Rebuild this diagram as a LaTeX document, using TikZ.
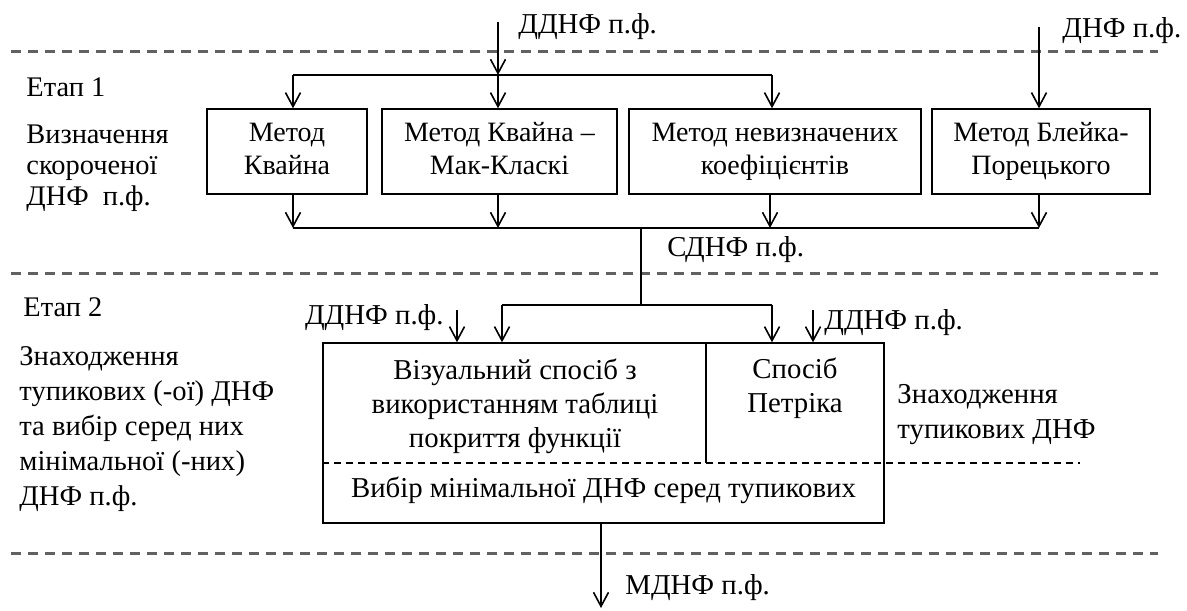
\documentclass[tikz,border=0pt]{standalone}
\usepackage{fontspec}
\setmainfont{Liberation Serif}
\usetikzlibrary{arrows.meta, positioning, calc}
\tikzset{
  method_box/.style={rectangle, draw=black, line width=0.7pt, align=center, font=\fontsize{14}{16.5}\selectfont, minimum height=42.5pt, inner sep=0pt},
  box_text/.style={align=center, font=\fontsize{14.4}{17}\selectfont, inner sep=0pt},
  flow_label/.style={font=\fontsize{14.4}{16}\selectfont, inner sep=0pt},
  stage_text/.style={align=left, inner sep=0pt, anchor=west},
  flow_arrow/.style={-{Straight Barb[length=7pt, width=7.5pt, line width=0.8pt]}, line width=0.9pt},
  flow_line/.style={line width=0.9pt},
  stage_line/.style={dash pattern=on 5pt off 3.5pt, line width=1.5pt, black!62},
  inner_dash/.style={dash pattern=on 3.5pt off 2.5pt, line width=0.7pt}
}

\begin{document}
\begin{tikzpicture}[x=0.5pt, y=-0.5pt]
  \useasboundingbox (0,0) rectangle (1187,610);

  % Stage separators
  \foreach \y in {52, 273, 553}
    \draw[stage_line] (11,\y) -- (1158,\y);

  % Stage captions
  \node[stage_text, font=\fontsize{14.2}{16}\selectfont] (stage_one) at (26,87) {Етап 1};
  \node[stage_text, font=\fontsize{14.2}{15.5}\selectfont] (stage_one_goal) at (26,168) {Визначення\\скороченої\\ДНФ\ \ п.ф.};
  \node[stage_text, font=\fontsize{14.2}{16}\selectfont] (stage_two) at (23,307) {Етап 2};
  \node[stage_text, font=\fontsize{14.3}{17.5}\selectfont] (stage_two_goal) at (19,429) {Знаходження\\тупикових (-ої) ДНФ\\та вибір серед них\\мінімальної (-них)\\ДНФ п.ф.};

  % Stage 1: methods
  \node[method_box, minimum width=80pt] (quine) at (287,151.5) {\strut Метод\\\strut Квайна};
  \node[method_box, minimum width=117.5pt] (mcclusky) at (499.5,151.5) {\strut Метод Квайна –\\\strut Мак-Класкі};
  \node[method_box, minimum width=146pt] (undet) at (775,151.5) {\strut Метод невизначених\\\strut коефіцієнтів};
  \node[method_box, minimum width=109pt] (blake) at (1041,151.5) {\strut Метод Блейка-\\\strut Порецького};

  % Inputs of stage 1
  \coordinate (in_top) at (498,22);
  \coordinate (in_right) at (1039,27);
  \coordinate (split_top) at (498,75);
  \coordinate (split_w) at (293,75);
  \coordinate (split_e) at (772,75);
  \node[flow_label, anchor=west] (in_top_lbl) at (518,27) {ДДНФ п.ф.};
  \node[flow_label, anchor=west] (in_right_lbl) at (1062,31) {ДНФ п.ф.};
  \draw[flow_arrow] (in_top) -- (split_top);
  \draw[flow_line] (split_w) -- (split_e);
  \foreach \c/\b in {split_w/quine, split_top/mcclusky, split_e/undet}
    \draw[flow_arrow] (\c) -- (\c |- \b.north);
  \draw[flow_arrow] (in_right) -- (in_right |- blake.north);

  % Outputs of stage 1
  \foreach \n/\x/\b in {out_q/293/quine, out_m/498/mcclusky, out_u/770/undet, out_b/1039/blake}{
    \coordinate (\n) at (\x,228);
    \draw[flow_arrow] (\n |- \b.south) -- (\n);
  }
  \draw[flow_line] (out_q) -- (out_b);
  \node[flow_label, anchor=west] (sdnf_lbl) at (667,250) {СДНФ п.ф.};

  % Stage 2: dead-end and minimal forms
  \node[rectangle, draw=black, line width=0.7pt, minimum width=280.5pt, minimum height=90pt, inner sep=0pt] (stage2box) at (603.5,433) {};
  \coordinate (split_cell) at (706,463);
  \coordinate (dash_end) at (1080,463);
  \draw[line width=0.7pt] (split_cell) -- (split_cell |- stage2box.north);
  \draw[inner_dash] (stage2box.west |- split_cell) -- (dash_end);
  \node[box_text] (visual) at (515,406) {Візуальний спосіб з\\використанням таблиці\\покриття функції};
  \node[box_text] (petrick) at (795,388) {Спосіб\\Петріка};
  \node[box_text] (choice) at (603.5,490) {Вибір мінімальної ДНФ серед тупикових};
  \node[stage_text, font=\fontsize{14.4}{17.5}\selectfont] (deadend_lbl) at (897,415) {Знаходження\\тупикових ДНФ};

  % Inputs of stage 2
  \coordinate (sdnf_j) at (641,228);
  \coordinate (sdnf_m) at (641,305);
  \coordinate (sdnf_w) at (502,305);
  \coordinate (sdnf_e) at (772,305);
  \draw[flow_line] (sdnf_j) -- (sdnf_m);
  \draw[flow_line] (sdnf_w) -- (sdnf_e);
  \draw[flow_arrow] (sdnf_w) -- (sdnf_w |- stage2box.north);
  \draw[flow_arrow] (sdnf_e) -- (sdnf_e |- stage2box.north);
  \coordinate (dd_left) at (457,310);
  \coordinate (dd_right) at (813,310);
  \node[flow_label, anchor=east] (dd_left_lbl) at (444,318) {ДДНФ п.ф.};
  \node[flow_label, anchor=west] (dd_right_lbl) at (824,323) {ДДНФ п.ф.};
  \draw[flow_arrow] (dd_left) -- (dd_left |- stage2box.north);
  \draw[flow_arrow] (dd_right) -- (dd_right |- stage2box.north);

  % Result
  \coordinate (result_end) at (601,608);
  \draw[flow_arrow] (stage2box.south -| result_end) -- (result_end);
  \node[flow_label, anchor=west] (mdnf_lbl) at (625,588) {МДНФ п.ф.};
\end{tikzpicture}
\end{document}
